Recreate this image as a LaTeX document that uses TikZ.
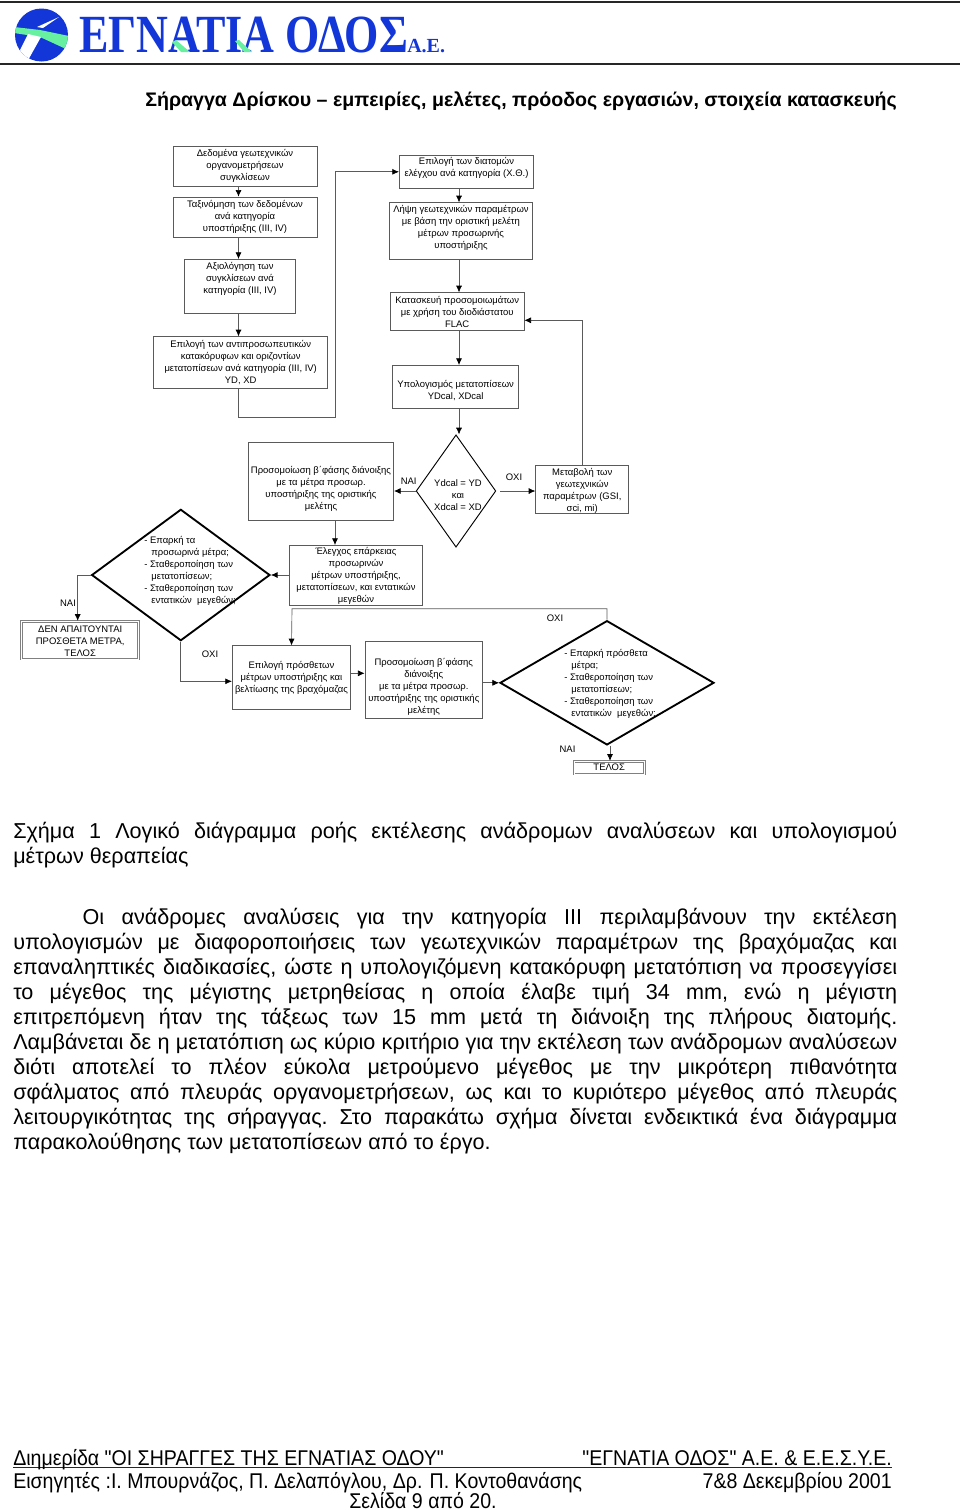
\documentclass[tikz,border=0pt]{standalone}
\usepackage{fontspec}
\setmainfont{Liberation Sans}[Ligatures=TeXOff]
\newfontfamily\logofont{Liberation Serif}
\usetikzlibrary{shapes.geometric, arrows.meta}

\definecolor{boxgray}{HTML}{5A5A5A}
\definecolor{logoblue}{HTML}{1236D8}
\definecolor{logogreen}{HTML}{66F0A0}
\newcommand{\diagfont}{\fontsize{7.1}{9}\selectfont}
\newcommand{\bodyfont}{\fontsize{16.2}{18.75}\selectfont\frenchspacing}
\newcommand{\footfont}{\fontsize{16}{18}\selectfont}
\newcommand{\footline}[1]{\scalebox{0.917}[1]{\footfont #1}}

\begin{document}
\begin{tikzpicture}[
        x=0.75pt, y=-0.75pt,
        box/.style 2 args={rectangle, draw=boxgray, line width=0.5pt, inner sep=0pt, align=center, font=\diagfont, minimum width=#1*0.75pt, minimum height=#2*0.75pt}, % Process box
        endbox/.style 2 args={box={#1}{#2}, draw=gray, double=white, double distance=0.4pt, line width=0.8pt}, % Terminal box
        decision/.style 2 args={diamond, draw=black, line width=0.7pt, inner sep=0pt, minimum width=#1*0.75pt, minimum height=#2*0.75pt}, % Thin diamond
        thickdecision/.style 2 args={decision={#1}{#2}, line width=1.4pt}, % Heavy diamond
        tag/.style={inner sep=0pt, font=\diagfont, align=left}, % Text without a frame
        flow/.style={draw=boxgray, line width=0.5pt, -{Latex[length=5pt, width=4.5pt, color=black]}}, % Connector
        rule/.style={draw=black!85, line width=1.1pt}
    ]
    \useasboundingbox (0,0) rectangle (960,1510);

    % Header
    \draw[rule] (0,2) -- (960,2);
    \draw[rule] (0,64) -- (960,64);
    \fill[logoblue] (41.5,35) circle (26.5);
    \begin{scope}
        \clip (41.5,35) circle (26.5);
        \fill[logogreen] (14,27) -- (40,30) -- (69,36) -- (66,49) -- (40,37) -- (14,33) -- cycle;
        \fill[white] (59,17) -- (43,28) -- (37,27) -- cycle;
        \fill[white] (28,34) -- (41,37) -- (27,62) -- (20,50) -- cycle;
    \end{scope}
    \node[anchor=base west, inner sep=0pt, text=logoblue] (logotext) at (79,52) {\scalebox{0.87}[1.06]{\logofont\bfseries\fontsize{38}{38}\selectfont ΕΓΝΑΤΙΑ ΟΔΟΣ}};
    \node[anchor=base west, inner sep=0pt, text=logoblue] (logoae) at (407,52) {\logofont\bfseries\fontsize{15}{15}\selectfont Α.Ε.};
    \fill[logogreen] (172,42) -- (176,40) -- (190,52) -- (181,52) -- cycle;
    \fill[logogreen] (235,41) -- (239,40) -- (252,52) -- (244,52) -- cycle;
    \node[inner sep=0pt, anchor=base west, font=\fontsize{14.7}{18}\selectfont\bfseries] (title) at (145,106) {Σήραγγα Δρίσκου – εμπειρίες, μελέτες, πρόοδος εργασιών, στοιχεία κατασκευής};

    % Left column
    \node[box={144.3}{39.3}] (n1) at (245,166.4) {Δεδομένα γεωτεχνικών\\οργανομετρήσεων\\συγκλίσεων};
    \node[box={144}{40}] (n2) at (245,217) {Ταξινόμηση των δεδομένων\\ανά κατηγορία\\υποστήριξης (III, IV)};
    \node[box={110.6}{53.7}] (n3) at (240,286.2) {Αξιολόγηση των\\συγκλίσεων ανά\\κατηγορία (III, IV)\\[3pt]~};
    \node[box={174}{51.6}] (n4) at (240.7,362.5) {Επιλογή των αντιπροσωπευτικών\\κατακόρυφων και οριζοντίων\\μετατοπίσεων ανά κατηγορία (III, IV)\\YD, XD};

    % Right column
    \node[box={134.4}{33}] (r1) at (466.5,171.8) {Επιλογή των διατομών\\ελέγχου ανά κατηγορία (Χ.Θ.)\\[-2pt]~};
    \node[box={143.4}{56.6}] (r2) at (461,231) {Λήψη γεωτεχνικών παραμέτρων\\με βάση την οριστική μελέτη\\μέτρων προσωρινής\\υποστήριξης\\[-3pt]~};
    \node[box={133.7}{37.6}] (r3) at (457.2,311.5) {Κατασκευή προσομοιωμάτων\\με χρήση του διοδιάστατου\\FLAC};
    \node[box={126}{43}] (r4) at (455.7,386.8) {~\\[2pt]Υπολογισμός μετατοπίσεων\\YDcal, XDcal};

    % Middle row
    \node[decision={79.7}{112.3}] (d1) at (456,491) {};
    \node[tag, align=center] (d1text) at (458,495) {Ydcal = YD\\και\\Xdcal = XD};
    \node[box={145.4}{78}] (p1) at (321,481.3) {~\\[7.5pt]Προσομοίωση β΄φάσης διάνοιξης\\με τα μέτρα προσωρ.\\υποστήριξης της οριστικής\\μελέτης};
    \node[box={93}{47.7}] (m1) at (582.2,489.2) {~\\[-1pt]Μεταβολή των\\γεωτεχνικών\\παραμέτρων (GSI,\\σci, mi)};
    \node[box={133.4}{59.7}] (c1) at (356,575.2) {~\\[-3pt]Έλεγχος επάρκειας\\προσωρινών\\μέτρων υποστήριξης,\\μετατοπίσεων, και εντατικών\\μεγεθών};
    \node[thickdecision={178.3}{131.4}] (d2) at (180.8,575) {};
    \node[tag, anchor=west] (d2text) at (144,570.5) {- Επαρκή τα\\\hspace{5.3pt}προσωρινά μέτρα;\\- Σταθεροποίηση των\\\hspace{5.3pt}μετατοπίσεων;\\- Σταθεροποίηση των\\\hspace{5.3pt}εντατικών~~μεγεθών;};
    \node[endbox={117}{37.7}] (e1) at (80.2,640.2) {~\\[-3pt]ΔΕΝ ΑΠΑΙΤΟΥΝΤΑΙ\\ΠΡΟΣΘΕΤΑ ΜΕΤΡΑ,\\ΤΕΛΟΣ};

    % Bottom row
    \node[box={118.4}{63.6}] (a1) at (291.5,677.5) {Επιλογή πρόσθετων\\μέτρων υποστήριξης και\\βελτίωσης της βραχόμαζας};
    \node[box={117.7}{77.7}] (p2) at (423.8,679.8) {~\\[7.5pt]Προσομοίωση β΄φάσης\\διάνοιξης\\με τα μέτρα προσωρ.\\υποστήριξης της οριστικής\\μελέτης};
    \node[thickdecision={214}{124.3}] (d3) at (607,682.8) {};
    \node[tag, anchor=west] (d3text) at (564,683.5) {- Επαρκή πρόσθετα\\\hspace{5.3pt}μέτρα;\\- Σταθεροποίηση των\\\hspace{5.3pt}μετατοπίσεων;\\- Σταθεροποίηση των\\\hspace{5.3pt}εντατικών~~μεγεθών;};
    \node[endbox={70.3}{12.7}] (t1) at (609.2,767.7) {\raisebox{-0.8pt}{ΤΕΛΟΣ}};

    % Labels
    \node[tag] (yes1) at (408.7,481.7) {ΝΑΙ};
    \node[tag] (no1) at (514,477.5) {ΟΧΙ};
    \node[tag] (yes2) at (68,603) {ΝΑΙ};
    \node[tag] (no2) at (210,654.5) {ΟΧΙ};
    \node[tag] (no3) at (555,618) {ΟΧΙ};
    \node[tag] (yes3) at (567.5,749.7) {ΝΑΙ};

    % Turning points of the connectors
    \coordinate (colleft) at (238.5,0);
    \coordinate (colright) at (459,0);
    \coordinate (turnup) at (335,417.7);
    \coordinate (colp) at (335,0);
    \coordinate (turnback) at (582.7,320.3);
    \coordinate (elbow) at (77.7,0);
    \coordinate (rowa) at (0,681.3);
    \coordinate (rowb) at (0,673.3);
    \coordinate (turntop) at (292,608.7);
    \coordinate (colt) at (610,0);

    \draw[flow] (n1.south-|colleft) -- (n2.north-|colleft);
    \draw[flow] (n2.south-|colleft) -- (n3.north-|colleft);
    \draw[flow] (n3.south-|colleft) -- (n4.north-|colleft);
    \draw[flow] (n4.south-|colleft) |- (turnup) |- (r1.west);
    \draw[flow] (r1.south-|colright) -- (r2.north-|colright);
    \draw[flow] (r2.south-|colright) -- (r3.north-|colright);
    \draw[flow] (r3.south-|colright) -- (r4.north-|colright);
    \draw[flow] (r4.south-|colright) -- (d1.north-|colright);
    \draw[flow] (d1.west) -- (d1.west-|p1.east);
    \draw[flow] ([xshift=3pt]d1.east) -- (d1.east-|m1.west);
    \draw[flow] (m1.north-|turnback) |- (turnback) -- (r3.east|-turnback);
    \draw[flow] (p1.south-|colp) -- (c1.north-|colp);
    \draw[flow] (c1.west|-d2.east) -- (d2.east);
    \draw[flow] (d2.west) -| (e1.north-|elbow);
    \draw[flow] (d2.south) |- (a1.west|-rowa);
    \draw[flow] (a1.east|-rowb) -- (p2.west|-rowb);
    \draw[flow] (p2.east|-d3.west) -- (d3.west);
    \draw[flow] (d3.north) |- (turntop) -- (a1.north);
    \draw[flow] (d3.south-|colt) -- (t1.north-|colt);

    % Text below the diagram
    \node[anchor=north west, inner sep=0pt, text width=663pt, align=justify, font=\bodyfont] (caption) at (13,822) {Σχήμα 1 Λογικό διάγραμμα ροής εκτέλεσης ανάδρομων αναλύσεων και υπολογισμού\linebreak μέτρων θεραπείας};
    \node[anchor=north west, inner sep=0pt, text width=663pt, align=justify, font=\bodyfont] (para) at (13,908) {\hspace*{52pt}Οι ανάδρομες αναλύσεις για την κατηγορία III περιλαμβάνουν την εκτέλεση\linebreak υπολογισμών με διαφοροποιήσεις των γεωτεχνικών παραμέτρων της βραχόμαζας και\linebreak επαναληπτικές διαδικασίες, ώστε η υπολογιζόμενη κατακόρυφη μετατόπιση να προσεγγίσει\linebreak το μέγεθος της μέγιστης μετρηθείσας η οποία έλαβε τιμή 34 mm, ενώ η μέγιστη\linebreak επιτρεπόμενη ήταν της τάξεως των 15 mm μετά τη διάνοιξη της πλήρους διατομής.\linebreak Λαμβάνεται δε η μετατόπιση ως κύριο κριτήριο για την εκτέλεση των ανάδρομων αναλύσεων\linebreak διότι αποτελεί το πλέον εύκολα μετρούμενο μέγεθος με την μικρότερη πιθανότητα\linebreak σφάλματος από πλευράς οργανομετρήσεων, ως και το κυριότερο μέγεθος από πλευράς\linebreak λειτουργικότητας της σήραγγας. Στο παρακάτω σχήμα δίνεται ενδεικτικά ένα διάγραμμα\linebreak παρακολούθησης των μετατοπίσεων από το έργο.};

    % Footer
    \draw[rule, line width=0.7pt] (13,1467) -- (892,1467);
    \node[anchor=base west, inner sep=0pt] (foot1) at (13,1465) {\footline{Διημερίδα "ΟΙ ΣΗΡΑΓΓΕΣ ΤΗΣ ΕΓΝΑΤΙΑΣ ΟΔΟΥ"}};
    \node[anchor=base east, inner sep=0pt] (foot2) at (892,1465) {\footline{"ΕΓΝΑΤΙΑ ΟΔΟΣ" Α.Ε. \& Ε.Ε.Σ.Υ.Ε.}};
    \node[anchor=base west, inner sep=0pt] (foot3) at (13,1488) {\footline{Εισηγητές :Ι. Μπουρνάζος, Π. Δελαπόγλου, Δρ. Π. Κοντοθανάσης}};
    \node[anchor=base east, inner sep=0pt] (foot4) at (892,1488) {\footline{7\&8 Δεκεμβρίου 2001}};
    \node[anchor=base, inner sep=0pt] (foot5) at (423,1508) {\footline{Σελίδα 9 από 20.}};
\end{tikzpicture}
\end{document}
